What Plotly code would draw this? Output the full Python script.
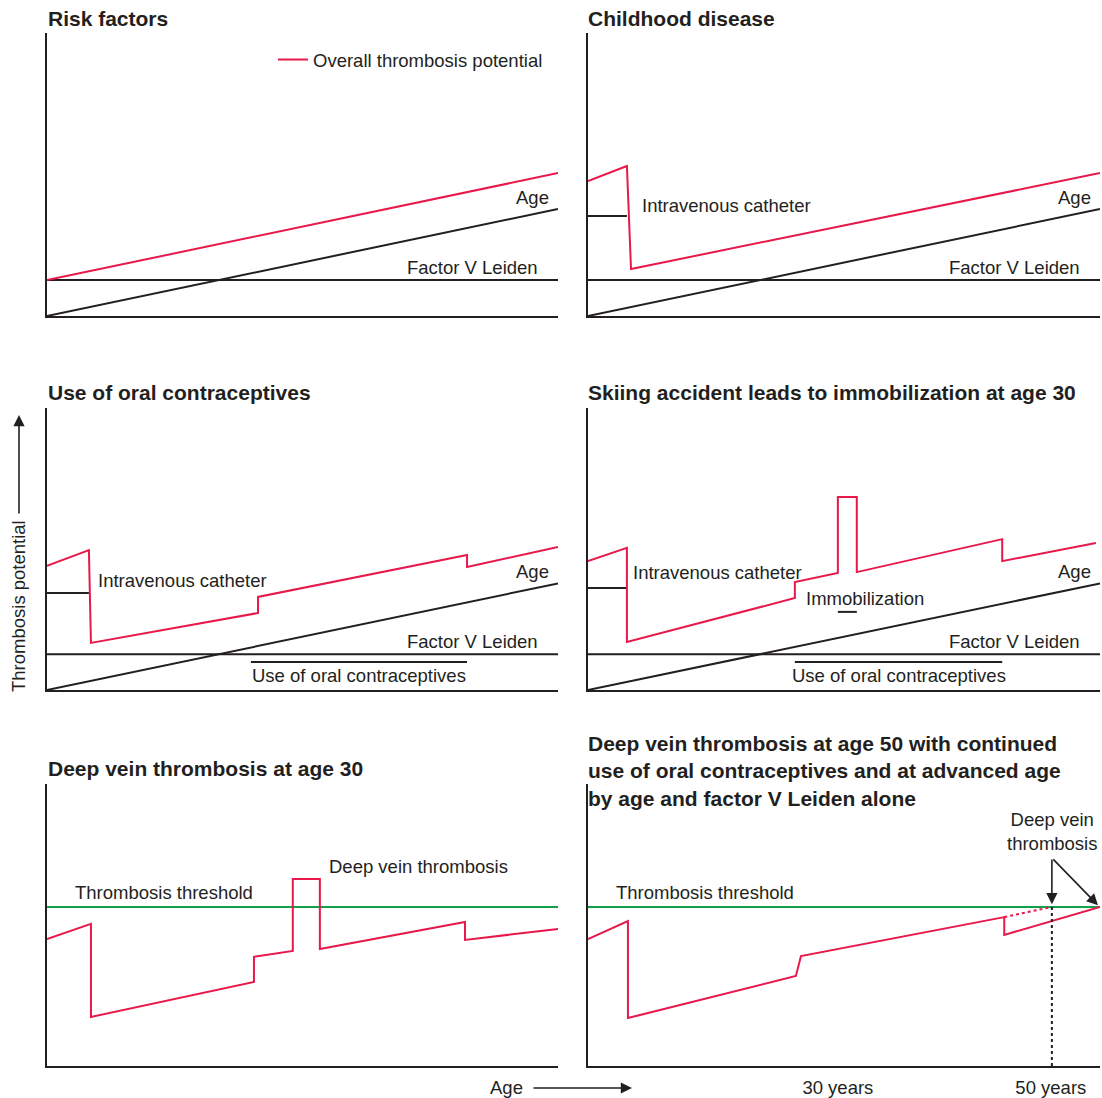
import plotly.graph_objects as go

# ---------------- data (panel units: x 0-100 = age axis, y 0-100 = potential) -------------
age_x = [0, 100]
age_y = [0, 37.8]
fvl_level = 12.7
threshold_level = 56.4

red_p1_x = [0, 100]
red_p1_y = [12.7, 50.5]

red_p2_x = [0, 7.6, 8.4, 100]
red_p2_y = [47.7, 53.0, 16.6, 50.5]

red_p3_x = [0, 8.2, 8.6, 41.3, 41.3, 82.2, 82.2, 100]
red_p3_y = [44.0, 49.6, 16.7, 27.3, 33.0, 47.9, 43.6, 50.7]

red_p4_x = [0, 7.6, 7.6, 40.4, 40.4, 48.8, 48.8, 52.5, 52.5, 80.9, 80.9, 99.2]
red_p4_y = [45.7, 50.4, 17.0, 32.6, 38.3, 41.5, 68.4, 68.4, 41.8, 53.5, 45.7, 52.1]

red_p5_x = [0, 8.6, 8.6, 40.5, 40.5, 48.1, 48.1, 53.4, 53.4, 81.8, 81.8, 100]
red_p5_y = [45.0, 50.4, 17.4, 29.8, 38.7, 40.8, 66.3, 66.3, 41.5, 51.1, 44.7, 48.6]

red_p6_x = [0, 7.8, 7.8, 40.6, 41.6, 81.3, 81.3, 100]
red_p6_y = [45.0, 51.4, 17.0, 31.9, 39.0, 52.8, 46.5, 56.4]
red_p6_dot_x = [81.3, 90.6]
red_p6_dot_y = [52.8, 56.4]
dvt_x = 90.6

catheter = {2: ([0, 7.6], 35.3), 3: ([0, 8.2], 34.4), 4: ([0, 7.6], 36.2)}
oral_bar = {3: ([39.9, 82.2], 9.9), 4: ([40.4, 80.9], 9.9)}
immob_bar = ([48.8, 52.5], 27.7)

titles = [
    "Risk factors",
    "Childhood disease",
    "Use of oral contraceptives",
    "Skiing accident leads to immobilization at age 30",
    "Deep vein thrombosis at age 30",
    "Deep vein thrombosis at age 50 with continued<br>use of oral contraceptives and at advanced age<br>by age and factor V Leiden alone",
]
year_ticks = [48.8, 90.4]
year_labels = ["30 years", "50 years"]

# ---------------- styling ---------------------------------------------------------------
W, H = 1102, 1098
RED = "#E8184B"
BLK = "#231F20"
GRN = "#12A04A"
FONT = "Liberation Sans, Arial, sans-serif"
LW = 2
FS = 18.5
TFS = 21

cols = [(47, 558), (588, 1100)]
rows = [(33, 316), (408, 690), (784, 1066)]

fig = go.Figure()
layout = dict(width=W, height=H, margin=dict(l=0, r=0, t=0, b=0),
              paper_bgcolor="white", plot_bgcolor="white",
              font=dict(family=FONT, size=FS, color=BLK), showlegend=True)

for i in range(6):
    r, c = divmod(i, 2)
    n = i + 1
    sx = "" if n == 1 else str(n)
    x0, x1 = cols[c]
    y0, y1 = rows[r]
    layout["xaxis" + sx] = dict(domain=[x0 / W, x1 / W], range=[0, 100], anchor="y" + sx,
                                showline=True, linecolor=BLK, linewidth=LW, showgrid=False,
                                zeroline=False, showticklabels=False, ticks="", fixedrange=True)
    layout["yaxis" + sx] = dict(domain=[1 - y1 / H, 1 - y0 / H], range=[0, 100], anchor="x" + sx,
                                showline=True, linecolor=BLK, linewidth=LW, showgrid=False,
                                zeroline=False, showticklabels=False, ticks="", fixedrange=True)

layout["xaxis6"].update(showticklabels=True, tickmode="array", tickvals=year_ticks,
                        ticktext=year_labels, tickfont=dict(size=FS, color=BLK), ticklen=0,
                        ticklabelstandoff=4)


def ax(n):
    return ("x" if n == 1 else "x%d" % n), ("y" if n == 1 else "y%d" % n)


def line(n, xs, ys, color=BLK, dash="solid", name=None, legend=False):
    xa, ya = ax(n)
    fig.add_trace(go.Scatter(x=xs, y=ys, mode="lines", xaxis=xa, yaxis=ya,
                             line=dict(color=color, width=LW, dash=dash),
                             name=name or "", showlegend=legend, hoverinfo="skip"))


# age & FVL lines in panels 1-4
for n in (1, 2, 3, 4):
    line(n, age_x, age_y)
    line(n, [0, 100], [fvl_level, fvl_level])

for n, (xs, yv) in catheter.items():
    line(n, xs, [yv, yv])
for n, (xs, yv) in oral_bar.items():
    line(n, xs, [yv, yv])
line(4, immob_bar[0], [immob_bar[1]] * 2)

for n in (5, 6):
    line(n, [0, 100], [threshold_level, threshold_level], color=GRN)

line(1, red_p1_x, red_p1_y, RED, name="Overall thrombosis potential", legend=True)
line(2, red_p2_x, red_p2_y, RED)
line(3, red_p3_x, red_p3_y, RED)
line(4, red_p4_x, red_p4_y, RED)
line(5, red_p5_x, red_p5_y, RED)
line(6, red_p6_x, red_p6_y, RED)
line(6, red_p6_dot_x, red_p6_dot_y, RED, dash="dot")
line(6, [dvt_x, dvt_x], [0, threshold_level], BLK, dash="dot")

layout["legend"] = dict(x=273 / W, y=1 - 60 / H, xanchor="left", yanchor="middle",
                        bgcolor="rgba(0,0,0,0)", font=dict(size=FS, color=BLK),
                        itemwidth=30, tracegroupgap=0)

ann = []
# titles
title_pos = [(46, 18), (586, 18), (46, 392), (586, 392), (46, 768), (586, 771)]
for t, (px, py) in zip(titles, title_pos):
    ann.append(dict(text="<b>%s</b>" % t, x=px / W, y=1 - py / H, xref="paper", yref="paper",
                    xanchor="left", yanchor="middle", align="left", showarrow=False,
                    font=dict(size=TFS, color=BLK)))


def label(n, text, x, y, xanchor="left"):
    xa, ya = ax(n)
    ann.append(dict(text=text, x=x, y=y, xref=xa, yref=ya, xanchor=xanchor, yanchor="middle",
                    showarrow=False, font=dict(size=FS, color=BLK)))


for n in (1, 2, 3, 4):
    label(n, "Age", 98.6, 42, "right")
    label(n, "Factor V Leiden", 96.5, 17.3, "right")
label(2, "Intravenous catheter", 10.2, 39.2)
label(3, "Intravenous catheter", 9.6, 39.0)
label(4, "Intravenous catheter", 8.4, 41.5)
label(4, "Immobilization", 54.1, 32.6, "center")
label(3, "Use of oral contraceptives", 61.0, 5.0, "center")
label(4, "Use of oral contraceptives", 60.7, 5.0, "center")
label(5, "Thrombosis threshold", 5.1, 61.7)
label(6, "Thrombosis threshold", 5.1, 61.7)
label(5, "Deep vein thrombosis", 54.7, 70.9)
label(6, "Deep vein<br>thrombosis", 90.6, 83.3, "center")

# DVT arrows in panel 6
for tip in ((dvt_x, 57.4), (99.6, 57.0)):
    ann.append(dict(text="", x=tip[0], y=tip[1], xref="x6", yref="y6", ax=dvt_x, ay=73.8,
                    axref="x6", ayref="y6", showarrow=True, arrowhead=2, arrowsize=1.4,
                    arrowwidth=1.6, arrowcolor=BLK))

# global axis titles with arrows
ann.append(dict(text="Age", x=525 / W, y=1 - 1087 / H, xref="paper", yref="paper",
                xanchor="right", yanchor="middle", showarrow=False, font=dict(size=FS, color=BLK)))
ann.append(dict(text="", x=632 / W, y=1 - 1088 / H, xref="paper", yref="paper", ax=-100, ay=0,
                showarrow=True, arrowhead=2, arrowsize=1.4, arrowwidth=1.6, arrowcolor=BLK))
ann.append(dict(text="Thrombosis potential", x=19 / W, y=1 - 606 / H, xref="paper", yref="paper",
                textangle=-90, xanchor="center", yanchor="middle", showarrow=False,
                font=dict(size=FS, color=BLK)))
ann.append(dict(text="", x=19 / W, y=1 - 415 / H, xref="paper", yref="paper", ax=0, ay=100,
                showarrow=True, arrowhead=2, arrowsize=1.4, arrowwidth=1.6, arrowcolor=BLK))

layout["annotations"] = ann
fig.update_layout(**layout)
fig.write_html("out.html", config={"displayModeBar": False},
               post_script="document.body.style.margin='0';document.body.style.overflow='hidden';")
